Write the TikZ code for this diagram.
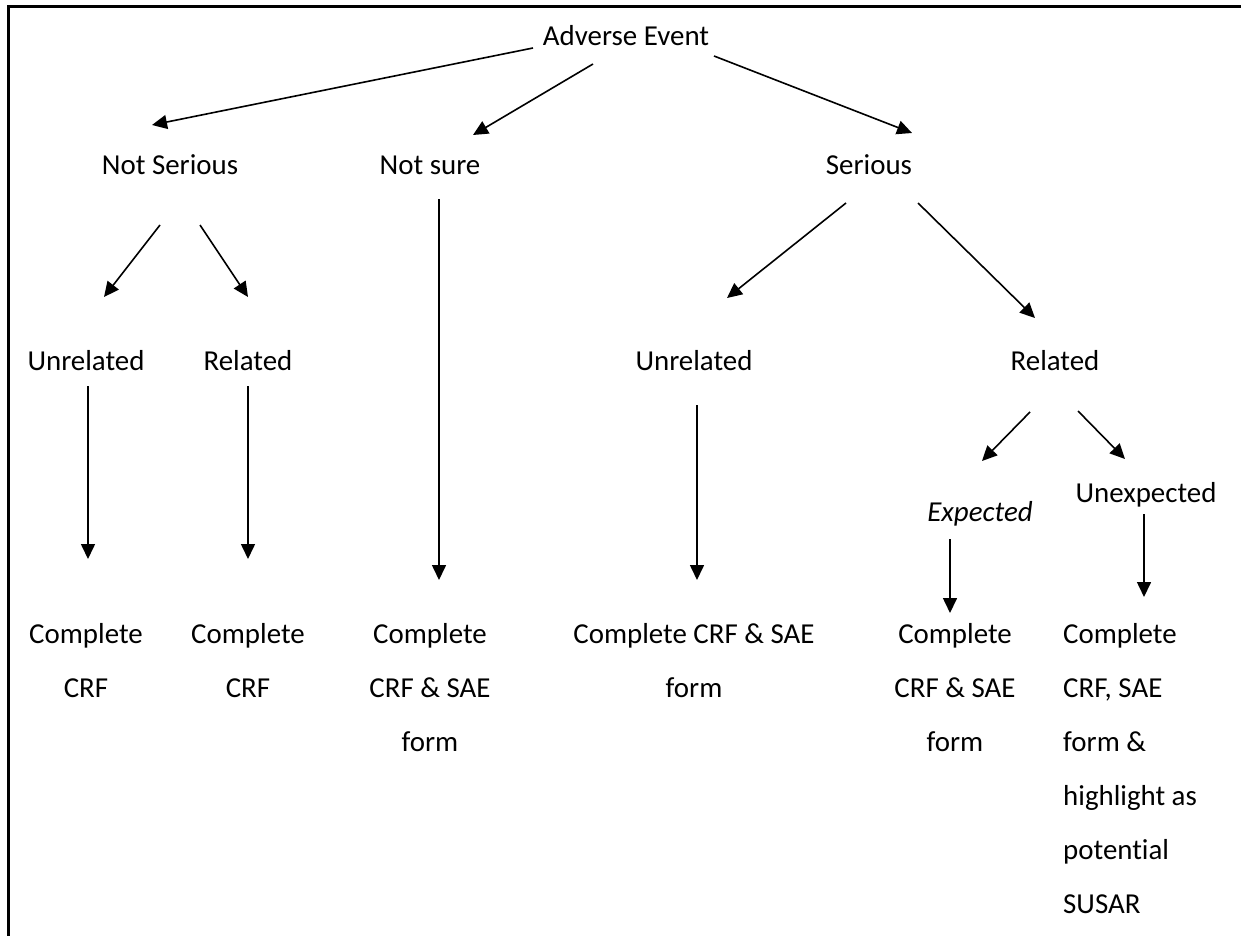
\documentclass[tikz,border=0pt]{standalone}
\usepackage{fontspec}
\setmainfont{Carlito}[Ligatures=NoCommon]
\usetikzlibrary{arrows.meta}

\tikzset{
    lbl/.style={inner sep=0pt, anchor=base, font=\fontsize{28.9}{54}\selectfont},
    arr/.style={line width=1.6pt, -{Triangle[length=15pt,width=14pt]}}
}

\begin{document}
\begin{tikzpicture}[x=1pt, y=-1pt]
    \useasboundingbox (0,0) rectangle (1241,936);
    % frame, top and left only
    \draw[line width=3pt] (8,936) -- (8,7) -- (1241,7);

    \node[lbl] (ae) at (626,46) {Adverse Event};
    \node[lbl] (ns) at (170,175) {Not Serious};
    \node[lbl] (nsure) at (430,175) {Not sure};
    \node[lbl] (ser) at (869,175) {Serious};
    \node[lbl] (nsun) at (86,370) {Unrelated};
    \node[lbl] (nsrel) at (248,370) {Related};
    \node[lbl] (seun) at (694,370) {Unrelated};
    \node[lbl] (serel) at (1055,370) {Related};
    \node[lbl] (exp) at (980,521) {\itshape Expected};
    \node[lbl] (unexp) at (1146,502) {Unexpected};

    % multi-line nodes sit on the baseline of their last line
    \node[lbl, align=center] (crfa) at (86,697) {Complete\\CRF};
    \node[lbl, align=center] (crfb) at (248,697) {Complete\\CRF};
    \node[lbl, align=center] (crfc) at (430,751) {Complete\\CRF \& SAE\\form};
    \node[lbl, align=center] (crfd) at (694,697) {Complete CRF \& SAE\\form};
    \node[lbl, align=center] (crfe) at (955,751) {Complete\\CRF \& SAE\\form};
    \node[lbl, align=left, anchor=base west] (crff) at (1063,913) {Complete\\CRF, SAE\\form \&\\highlight as\\potential\\SUSAR};

    \draw[arr] ([shift={(-93,2)}]ae.base) -- ([shift={(-18,-50)}]ns.base);
    \draw[arr] ([shift={(-33,18)}]ae.base) -- ([shift={(43,-40)}]nsure.base);
    \draw[arr] ([shift={(88,10)}]ae.base) -- ([shift={(43,-42)}]ser.base);

    \draw[arr] ([shift={(-10,50)}]ns.base) -- ([shift={(18,-73)}]nsun.base);
    \draw[arr] ([shift={(30,50)}]ns.base) -- ([shift={(0,-73)}]nsrel.base);
    \draw[arr] ([shift={(2,16)}]nsun.base) -- ([shift={(2,-138)}]crfa.base);
    \draw[arr] ([shift={(0,16)}]nsrel.base) -- ([shift={(0,-138)}]crfb.base);
    \draw[arr] ([shift={(9,24)}]nsure.base) -- ([shift={(9,-171)}]crfc.base);

    \draw[arr] ([shift={(-23,28)}]ser.base) -- ([shift={(33,-72)}]seun.base);
    \draw[arr] ([shift={(49,28)}]ser.base) -- ([shift={(-20,-52)}]serel.base);
    \draw[arr] ([shift={(3,35)}]seun.base) -- ([shift={(3,-117)}]crfd.base);
    \draw[arr] ([shift={(-25,42)}]serel.base) -- ([shift={(2,-60)}]exp.base);
    \draw[arr] ([shift={(23,41)}]serel.base) -- ([shift={(-21,-43)}]unexp.base);
    \draw[arr] ([shift={(-30,18)}]exp.base) -- ([shift={(-5,-138)}]crfe.base);
    \draw[arr] ([shift={(-2,12)}]unexp.base) -- ([shift={(81,-316)}]crff.base west);
\end{tikzpicture}
\end{document}
